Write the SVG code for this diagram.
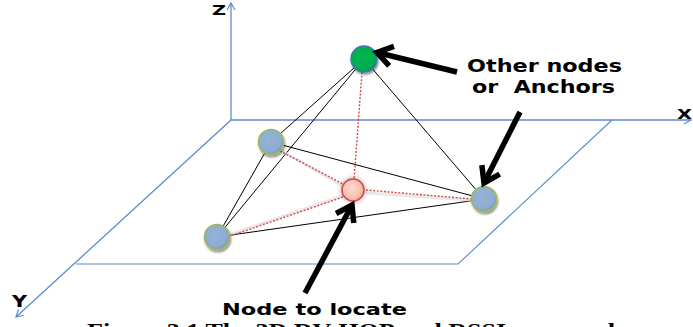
<svg xmlns="http://www.w3.org/2000/svg" width="693" height="327" viewBox="0 0 693 327">
<style>
.axis{stroke:#5b8bd0;stroke-width:1.3;fill:none}
.plane{stroke:#5b8bd0;stroke-width:1.1;fill:none}
.edge{stroke:#000;stroke-width:1;fill:none}
.dot{stroke:#d04a48;stroke-width:1.4;stroke-dasharray:2 1.6;fill:none}
.dotsh{stroke:#d8d8d8;stroke-width:3;fill:none;opacity:0.6}
.big{stroke:#000;stroke-width:5.5;fill:none}
.lbl{font-family:"DejaVu Sans",Verdana,sans-serif;font-weight:bold;fill:#000}
.cap{font-family:"Liberation Serif","Times New Roman",serif;font-weight:bold;fill:#000}
.anchor{fill:url(#gBlue);stroke:#9bbb59;stroke-width:1.6;filter:url(#sh)}
</style>
<defs>
<marker id="ax" markerUnits="userSpaceOnUse" markerWidth="14" markerHeight="14" viewBox="-10 -7 14 14" refX="0" refY="0" orient="auto" overflow="visible">
<path d="M-7,-4 L0,0 L-7,4" fill="none" stroke="#5b8bd0" stroke-width="1.2"/>
</marker>
<marker id="ah" markerUnits="userSpaceOnUse" markerWidth="40" markerHeight="40" viewBox="-20 -20 40 40" refX="0" refY="0" orient="auto" overflow="visible">
<path d="M-15,-10 L0,0 L-15,10" fill="none" stroke="#000" stroke-width="5.5" stroke-linejoin="miter"/>
</marker>
<radialGradient id="gBlue" cx="0.42" cy="0.4" r="0.65">
<stop offset="0" stop-color="#95b3d7"/>
<stop offset="0.75" stop-color="#8eacd2"/>
<stop offset="1" stop-color="#6f8fb8"/>
</radialGradient>
<radialGradient id="gGreen" cx="0.42" cy="0.4" r="0.65">
<stop offset="0" stop-color="#00b552"/>
<stop offset="0.8" stop-color="#00ab4e"/>
<stop offset="1" stop-color="#008a40"/>
</radialGradient>
<radialGradient id="gPink" cx="0.45" cy="0.42" r="0.6">
<stop offset="0" stop-color="#fddacd"/>
<stop offset="0.7" stop-color="#f9c0b0"/>
<stop offset="1" stop-color="#f0a090"/>
</radialGradient>
<filter id="sh" x="-40%" y="-40%" width="180%" height="180%">
<feGaussianBlur in="SourceAlpha" stdDeviation="1.2"/>
<feOffset dx="1.2" dy="1.5" result="b"/>
<feComponentTransfer><feFuncA type="linear" slope="0.45"/></feComponentTransfer>
<feMerge><feMergeNode/><feMergeNode in="SourceGraphic"/></feMerge>
</filter>
<filter id="glow" x="-60%" y="-60%" width="220%" height="220%">
<feGaussianBlur in="SourceAlpha" stdDeviation="2.2"/>
<feComponentTransfer><feFuncA type="linear" slope="0.5"/></feComponentTransfer>
<feFlood flood-color="#b03030"/>
<feComposite operator="in" in2="SourceAlpha"/>
<feMerge><feMergeNode/><feMergeNode in="SourceGraphic"/></feMerge>
</filter>
<filter id="glow2" x="-60%" y="-60%" width="220%" height="220%">
<feGaussianBlur in="SourceGraphic" stdDeviation="2.4" result="bl"/>
<feFlood flood-color="#a04040" flood-opacity="0.55"/>
<feComposite operator="in" in2="bl"/>
<feMerge><feMergeNode/><feMergeNode in="SourceGraphic"/></feMerge>
</filter>
</defs>

<g id="axes">
<line class="axis" x1="231" y1="120" x2="231" y2="3" marker-end="url(#ax)"/>
<line class="axis" x1="231" y1="120" x2="691" y2="120" marker-end="url(#ax)"/>
<line class="axis" x1="231" y1="120" x2="16" y2="317" marker-end="url(#ax)"/>
<polyline class="plane" points="612,120 458,264 76,264"/>
<text class="lbl" x="212" y="15" font-size="14" textLength="14" lengthAdjust="spacingAndGlyphs">Z</text>
<text class="lbl" x="677" y="119" font-size="14.5" textLength="15" lengthAdjust="spacingAndGlyphs">X</text>
<text class="lbl" x="12" y="307" font-size="15" textLength="15" lengthAdjust="spacingAndGlyphs">Y</text>
</g>

<g id="connectors">
<line class="edge" x1="364" y1="59" x2="271" y2="142"/>
<line class="edge" x1="364" y1="59" x2="217" y2="237"/>
<line class="edge" x1="364" y1="59" x2="484" y2="199"/>
<line class="edge" x1="271" y1="142" x2="217" y2="237"/>
<line class="edge" x1="271" y1="142" x2="484" y2="199"/>
<line class="edge" x1="217" y1="237" x2="484" y2="199"/>
<line class="dotsh" x1="272" y1="145" x2="353" y2="192"/>
<line class="dotsh" x1="355" y1="192" x2="484" y2="201"/>
<line class="dotsh" x1="353" y1="192" x2="217" y2="239"/>
<line class="dot" x1="362" y1="72" x2="354" y2="180"/>
<line class="dot" x1="280" y1="151" x2="343" y2="184"/>
<line class="dot" x1="366" y1="190" x2="472" y2="199"/>
<line class="dot" x1="343" y1="197" x2="230" y2="236"/>
</g>

<g id="node-top">
<circle cx="364" cy="59" r="13" fill="url(#gGreen)" stroke="#3f78b0" stroke-width="1.4" filter="url(#sh)"/>
</g>
<g id="node-ul">
<circle class="anchor" cx="271" cy="142" r="12.5"/>
</g>
<g id="node-right">
<circle class="anchor" cx="484" cy="199" r="12.5"/>
</g>
<g id="node-ll">
<circle class="anchor" cx="217" cy="237" r="12.5"/>
</g>
<g id="node-locate">
<circle cx="353" cy="190" r="11" fill="url(#gPink)" stroke="#c0504d" stroke-width="1.4" filter="url(#glow2)"/>
</g>

<g id="pointers">
<line class="big" x1="457" y1="72" x2="377" y2="52.5" marker-end="url(#ah)"/>
<line class="big" x1="520" y1="112" x2="484" y2="183" marker-end="url(#ah)"/>
<line class="big" x1="305" y1="293" x2="352" y2="205" marker-end="url(#ah)"/>
</g>

<g id="labels">
<text class="lbl" x="467" y="72" font-size="17" textLength="155" lengthAdjust="spacingAndGlyphs">Other nodes</text>
<text class="lbl" x="472" y="93" font-size="17" textLength="143" lengthAdjust="spacingAndGlyphs" xml:space="preserve">or  Anchors</text>
<text class="lbl" x="222" y="315" font-size="16.5" textLength="185" lengthAdjust="spacingAndGlyphs">Node to locate</text>
<text class="cap" x="87" y="337.5" font-size="22" textLength="528" lengthAdjust="spacingAndGlyphs">Figure 3.1 The 3D DV-HOP and RSSI proposed</text>
</g>
</svg>
